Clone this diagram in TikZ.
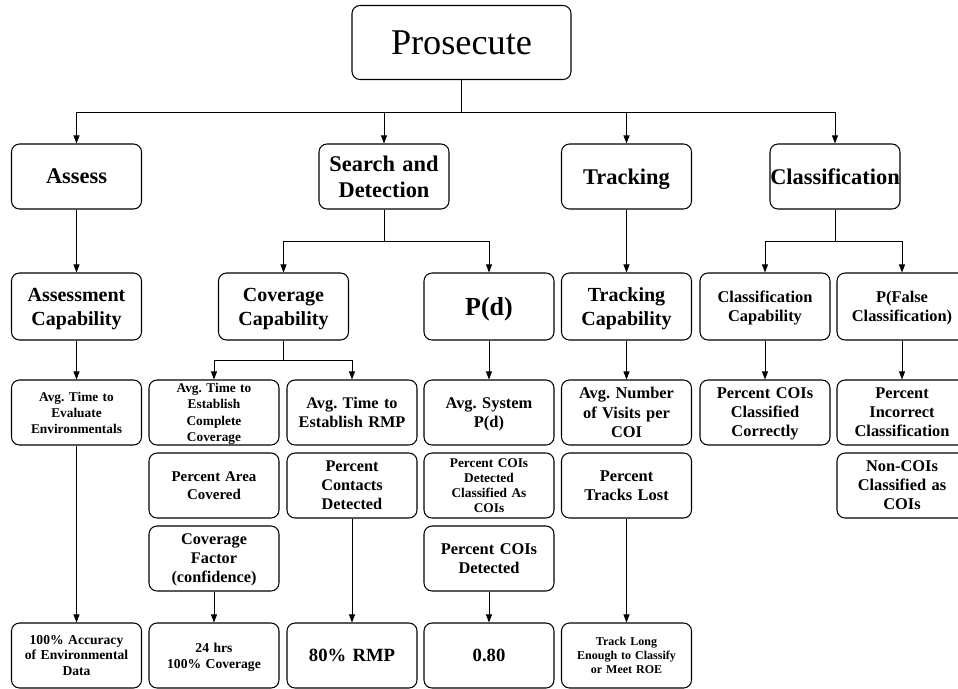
\documentclass[tikz,border=0pt]{standalone}
\usepackage{fontspec}
\setmainfont{Liberation Serif}
\usetikzlibrary{arrows.meta}
\newcommand\myfs[2]{\fontsize{#1}{#2}\selectfont}
\newcommand\nd[1]{\raisebox{0pt}[\height][0pt]{#1}}
\frenchspacing
\tikzset{
  box/.style={draw, line width=0.8pt, rounded corners=6pt, minimum width=97.5pt,
    minimum height=48.75pt, inner sep=0pt, text width=97.5pt, align=center,
    font=\bfseries, execute at begin node=\frenchspacing},
  tall/.style={minimum height=50.25pt},
  arr/.style={line width=0.75pt, -{Triangle[length=6pt,width=4.5pt]}},
  ln/.style={line width=0.75pt}
}
\begin{document}
\begin{tikzpicture}[x=0.75pt,y=-0.75pt]
\useasboundingbox (0,0) rectangle (958,689);
% top
\node[box, minimum width=164.25pt, text width=164.25pt, minimum height=55.5pt, font=\normalfont\myfs{27.2pt}{30pt}] (pros) at (461.5,42.5) {Prosecute};
% level 1
\node[box, font=\bfseries\myfs{16.8pt}{19.3pt}] (assess) at (76.5,176.5) {Assess};
\node[box, font=\bfseries\myfs{16.8pt}{19.3pt}] (sd) at (384,176.5) {Search and\\Detection};
\node[box, font=\bfseries\myfs{16.8pt}{19.3pt}] (track) at (626.5,176.5) {\nd{Tracking}};
\node[box, font=\bfseries\myfs{16.8pt}{19.3pt}] (class) at (835,176.5) {Classification};
% level 2
\node[box, tall, font=\bfseries\myfs{15pt}{18pt}] (acap) at (76.5,306.5) {Assessment\\\nd{Capability}};
\node[box, tall, font=\bfseries\myfs{15pt}{18pt}] (ccap) at (283.5,306.5) {Coverage\\\nd{Capability}};
\node[box, tall, font=\bfseries\myfs{19.5pt}{22pt}] (pd) at (489,306.5) {\nd{P(d)}};
\node[box, tall, font=\bfseries\myfs{15pt}{18pt}] (tcap) at (626.5,306.5) {Tracking\\\nd{Capability}};
\node[box, tall, font=\bfseries\myfs{12.3pt}{14pt}] (clcap) at (765,306.5) {Classification\\\nd{Capability}};
\node[box, tall, font=\bfseries\myfs{12.3pt}{14pt}] (pfc) at (902,306.5) {P(False\\\nd{Classification)}};
% level 3
\node[box, font=\bfseries\myfs{10pt}{12pt}] (eval) at (76.5,412.5) {Avg. Time to\\Evaluate\\Environmentals};
\node[box, font=\bfseries\myfs{10pt}{12.3pt}] (ecc) at (214,412.5) {Avg. Time to\\Establish\\Complete\\\nd{Coverage}};
\node[box, font=\bfseries\myfs{12.2pt}{14.3pt}] (ermp) at (352,412.5) {Avg. Time to\\Establish RMP};
\node[box, font=\bfseries\myfs{12.3pt}{14.3pt}] (asp) at (489,412.5) {Avg. System\\\nd{P(d)}};
\node[box, font=\bfseries\myfs{12.3pt}{14.4pt}] (anv) at (626.5,412.5) {Avg. Number\\of Visits per\\COI};
\node[box, font=\bfseries\myfs{12.3pt}{14.3pt}] (pcc) at (765,412.5) {Percent COIs\\Classified\\\nd{Correctly}};
\node[box, font=\bfseries\myfs{12.3pt}{14.3pt}] (pic) at (902,412.5) {Percent\\Incorrect\\Classification};
% level 4
\node[box, font=\bfseries\myfs{11.2pt}{13.7pt}] (pac) at (214,485.5) {Percent Area\\Covered};
\node[box, font=\bfseries\myfs{12.2pt}{14.3pt}] (pcd) at (352,485.5) {Percent\\Contacts\\Detected};
\node[box, font=\bfseries\myfs{10pt}{11.25pt}] (pcdc) at (489,485.5) {Percent COIs\\Detected\\Classified As\\COIs};
\node[box, font=\bfseries\myfs{12.3pt}{14.3pt}] (ptl) at (626.5,485.5) {Percent\\Tracks Lost};
\node[box, font=\bfseries\myfs{12.3pt}{14.3pt}] (nci) at (902,485.5) {Non-COIs\\Classified as\\COIs};
% level 5
\node[box, font=\bfseries\myfs{12.2pt}{14.3pt}] (cf) at (214,558.5) {Coverage\\Factor\\\nd{(confidence)}};
\node[box, font=\bfseries\myfs{12.3pt}{13.8pt}] (pcoid) at (489,558.5) {Percent COIs\\Detected};
% level 6
\node[box, font=\bfseries\myfs{10.2pt}{11.8pt}] (acc) at (76.5,655.5) {100\% Accuracy\\of Environmental\\Data};
\node[box, font=\bfseries\myfs{10.2pt}{11.8pt}] (hrs) at (214,655.5) {24 hrs\\\nd{100\% Coverage}};
\node[box, font=\bfseries\myfs{14pt}{16pt}] (rmp) at (352,655.5) {\nd{80\% RMP}};
\node[box, font=\bfseries\myfs{14pt}{16pt}] (z80) at (489,655.5) {0.80};
\node[box, font=\bfseries\myfs{9pt}{10.5pt}] (tle) at (626.5,655.5) {Track Long\\Enough to Classify\\or Meet ROE};
% bus connectors
\coordinate (bus) at (461.5,112);
\draw[ln] (pros.south) -- (bus);
\foreach \t in {assess,sd,track,class} \draw[arr] (bus) -| (\t.north);
\coordinate (sdb) at (384,241);
\draw[ln] (sd.south) -- (sdb);
\draw[arr] (sdb) -| (ccap.north);
\draw[arr] (sdb) -| (pd.north);
\coordinate (clb) at (835,241);
\draw[ln] (class.south) -- (clb);
\draw[arr] (clb) -| (clcap.north);
\draw[arr] (clb) -| (pfc.north);
\coordinate (ccb) at (283.5,360);
\draw[ln] (ccap.south) -- (ccb);
\draw[arr] (ccb) -| (ecc.north);
\draw[arr] (ccb) -| (ermp.north);
% straight arrows
\draw[arr] (assess) -- (acap);
\draw[arr] (acap) -- (eval);
\draw[arr] (eval) -- (acc);
\draw[arr] (track) -- (tcap);
\draw[arr] (tcap) -- (anv);
\draw[arr] (pd) -- (asp);
\draw[arr] (ptl) -- (tle);
\draw[arr] (pcd) -- (rmp);
\draw[arr] (cf) -- (hrs);
\draw[arr] (pcoid) -- (z80);
\draw[arr] (clcap) -- (pcc);
\draw[arr] (pfc) -- (pic);
\end{tikzpicture}
\end{document}
